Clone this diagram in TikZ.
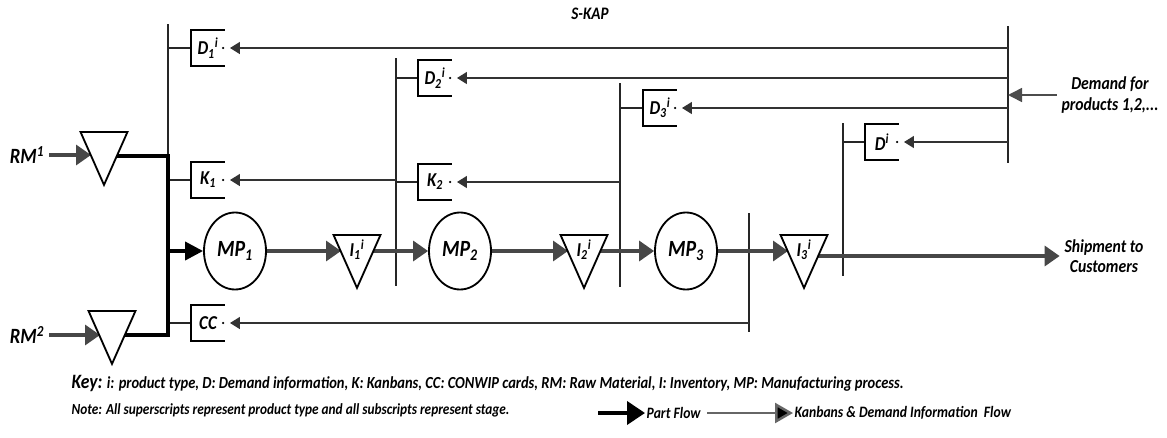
\documentclass[tikz,border=0pt]{standalone}
\usepackage{fontspec}
\setmainfont{Carlito}[ItalicFont={Carlito Italic},BoldFont={Carlito Bold},BoldItalicFont={Carlito Bold Italic},FakeStretch=0.86]
\usetikzlibrary{positioning,arrows.meta,calc,shapes.geometric,backgrounds}
\newcommand{\supsub}[3]{#1\textsubscript{#2}\textsuperscript{#3}}

\begin{document}
\begin{tikzpicture}[x=0.25mm,y=-0.25mm,font=\bfseries\itshape,>=Latex,
  part/.style={draw=black!72,line width=2.4pt,-{Triangle[length=3.75mm,width=5mm]}},
  thk/.style={draw=black,line width=2.6pt,line join=miter},
  info/.style={draw=black!80,line width=1.1pt,-{Triangle[length=2.5mm,width=3mm]},shorten >=1.3mm},
  bar/.style={draw=black!85,line width=1.1pt},
  card/.style={minimum width=8.25mm,minimum height=9mm,inner sep=0pt,font=\fontsize{14}{15}\selectfont\bfseries\itshape},
  proc/.style={draw,ellipse,fill=white,line width=1.3pt,minimum width=15.5mm,minimum height=19.25mm,inner sep=0pt,font=\fontsize{16.5}{17}\selectfont\bfseries\itshape},
  inv/.style={draw,fill=white,isosceles triangle,isosceles triangle stretches,shape border rotate=270,line width=1.3pt,minimum width=11.75mm,minimum height=13.25mm,inner sep=0pt,anchor=north,font=\fontsize{14}{15}\selectfont\bfseries\itshape},
  lbl/.style={font=\fontsize{13}{14.5}\selectfont\bfseries\itshape,align=center},
  keytxt/.style={anchor=west,inner sep=1pt,font=\fontsize{11.3}{13}\selectfont\bfseries\itshape}]
  \useasboundingbox (0,0) rectangle (1167,437);

  % title and side labels
  \node[font=\fontsize{12.5}{14}\selectfont\bfseries\itshape] (skap) at (590,14) {S-KAP};
  \node[lbl] (dem) at (1110,95) {Demand for\\products 1,2,...};
  \node[lbl] (ship) at (1104,256) {Shipment to\\Customers};
  \node[font=\fontsize{15.5}{16}\selectfont\bfseries\itshape] (rm1) at (27,155) {RM\textsuperscript{1}};
  \node[font=\fontsize{15.5}{16}\selectfont\bfseries\itshape] (rm2) at (27,335) {RM\textsuperscript{2}};

  % vertical bars
  \coordinate (b1t) at (168,24);  \coordinate (b1m) at (168,156); \coordinate (b1b) at (168,335);
  \coordinate (b2t) at (396,58);  \coordinate (b2b) at (396,286);
  \coordinate (b3t) at (620,83);  \coordinate (b3b) at (620,287);
  \coordinate (b4t) at (843,123); \coordinate (b4b) at (843,276);
  \coordinate (b5t) at (1008,26); \coordinate (b5b) at (1008,163);
  \coordinate (b6t) at (749,213); \coordinate (b6b) at (749,332);

  % cards
  \node[card] (d1) at (208,48) {\supsub{D}{1}{i}};
  \node[card] (k1) at (208,180) {K\textsubscript{1}};
  \node[card] (cc) at (208,323) {CC};
  \node[card] (d2) at (435,78) {\supsub{D}{2}{i}};
  \node[card] (k2) at (435,182) {K\textsubscript{2}};
  \node[card] (d3) at (660,108) {\supsub{D}{3}{i}};
  \node[card] (d4) at (882,142) {D\textsuperscript{i}};
  \foreach \n in {d1,k1,cc,d2,k2,d3,d4}{
    \draw[line width=1.3pt] (\n.north east) -- (\n.north west) -- (\n.south west) -- (\n.south east);
    \fill ([xshift=-0.4mm]\n.east) circle (0.3mm);
  }

  % stock points and processes
  \node[inv] (t0a) at (104,131) {};
  \node[inv] (t0b) at (112,310) {};
  \node[proc] (mp1) at (235,251) {MP\textsubscript{1}};
  \node[inv] (i1) at (357,234) {\supsub{I}{1}{i}};
  \node[proc] (mp2) at (460,251) {MP\textsubscript{2}};
  \node[inv] (i2) at (584,234) {\supsub{I}{2}{i}};
  \node[proc] (mp3) at (686,251) {MP\textsubscript{3}};
  \node[inv] (i3) at (804,234) {\supsub{I}{3}{i}};

  \begin{scope}[on background layer]
    % bars and card links
    \draw[bar] (b1t) -- (b1m);
    \draw[bar] (b2t) -- (b2b);
    \draw[bar] (b3t) -- (b3b);
    \draw[bar] (b4t) -- (b4b);
    \draw[bar] (b5t) -- (b5b);
    \draw[bar] (b6t) -- (b6b);
    \foreach \n/\b in {d1/b1t,k1/b1t,cc/b1t,d2/b2t,k2/b2t,d3/b3t,d4/b4t}
      \draw[bar] (\b |- \n) -- (\n.west);
    % kanban and demand information
    \foreach \n/\b in {d1/b5t,d2/b5t,d3/b5t,d4/b5t,k1/b2t,k2/b3t,cc/b6t}
      \draw[info] (\b |- \n) -- (\n.east);
    \draw[draw=black!70,line width=1.1pt,-{Triangle[length=3.5mm,width=3.5mm]}] (dem.west) -- (b5t |- dem);
    % part flow
    \draw[part] (rm1.east) -- ($(t0a |- rm1)+(-13,0)$);
    \draw[part] (rm2.east) -- ($(t0b |- rm2)+(-12,0)$);
    \draw[thk] (t0a |- b1m) -- (b1m) -- (b1b) -- (t0b |- b1b);
    \draw[thk,-{Triangle[length=4.5mm,width=4.5mm]}] (b1t |- mp1) -- (mp1);
    \draw[part] (mp1) -- ($(mp1 -| i1)+(-16,0)$);
    \draw[part] (i1 |- mp2) -- (mp2);
    \draw[part] (mp2) -- ($(mp2 -| i2)+(-16,0)$);
    \draw[part] (i2 |- mp3) -- (mp3);
    \draw[part] (mp3) -- ($(mp3 -| i3)+(-16,0)$);
    \draw[part] (i3 |- ship) -- (ship.west);
  \end{scope}

  % key
  \node[keytxt,font=\fontsize{12}{14}\selectfont\bfseries\itshape] (key) at (70,383)
    {{\fontsize{14.5}{15}\selectfont Key:} i: product type, D: Demand information, K: Kanbans, CC: CONWIP cards, RM: Raw Material, I: Inventory, MP: Manufacturing process.};
  \node[keytxt,font=\fontsize{11}{13}\selectfont\bfseries\itshape] (note) at (70,410)
    {Note: All superscripts represent product type and all subscripts represent stage.};
  \node[keytxt] (pf) at (645,413) {Part Flow};
  \node[keytxt] (kf) at (793,413) {Kanbans \& Demand Information\ \ Flow};
  \coordinate (pf0) at (598,413);
  \coordinate (kf0) at (707,413);
  \draw[line width=2.8pt,-{Triangle[length=4.5mm,width=5.75mm]}] (pf0) -- (pf.west);
  \draw[draw=black!60,line width=1.8pt,-{Triangle[length=4.5mm,width=5mm,fill=black]}] (kf0) -- (kf.west);
\end{tikzpicture}
\end{document}
